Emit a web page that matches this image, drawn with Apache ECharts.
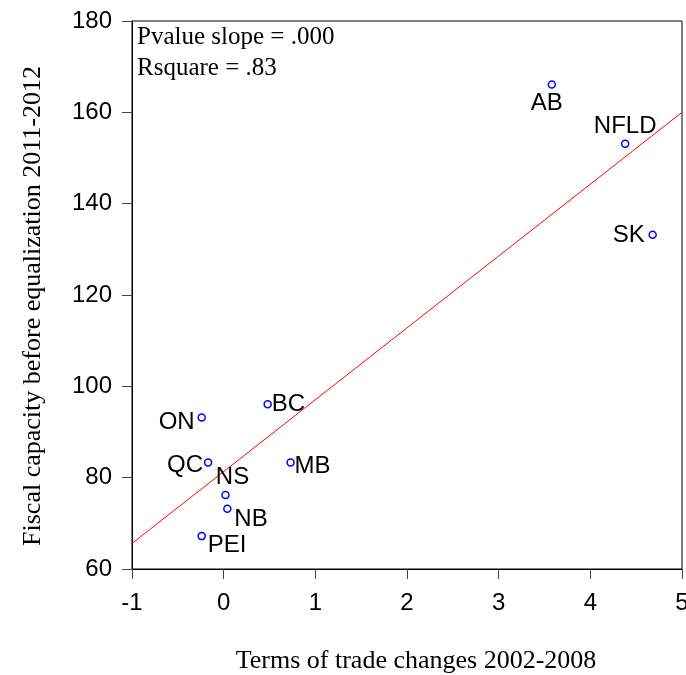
<!DOCTYPE html>
<html>
<head>
<meta charset="utf-8">
<script src="https://cdn.jsdelivr.net/npm/echarts@6/dist/echarts.min.js"></script>
<style>html,body{margin:0;padding:0;background:#fff;}#c{width:686px;height:675px;}</style>
</head>
<body>
<div id="c"></div>
<script>
// ---- data ----
var provinces = ['AB', 'NFLD', 'SK', 'BC', 'ON', 'QC', 'MB', 'NS', 'NB', 'PEI'];
var termsOfTrade = [3.58, 4.38, 4.68, 0.48, -0.24, -0.17, 0.73, 0.02, 0.04, -0.24];
var fiscalCapacity = [166.1, 153.1, 133.2, 96.1, 93.2, 83.3, 83.3, 76.2, 73.2, 67.2];
var fitLineX = [-1, 5];
var fitLineY = [65.6, 160.0];
var xTicks = [-1, 0, 1, 2, 3, 4, 5];
var yTicks = [60, 80, 100, 120, 140, 160, 180];
var statsText = ['Pvalue slope = .000', 'Rsquare = .83'];

// ---- label placement (layout only) ----
var labelPlacement = {
  AB: {align: 'center', offset: [-5, 19]},
  NFLD: {align: 'center', offset: [0, -17]},
  SK: {align: 'right', offset: [-8, 1]},
  BC: {align: 'left', offset: [4, 0]},
  ON: {align: 'right', offset: [-7, 5]},
  QC: {align: 'right', offset: [-5, 3]},
  MB: {align: 'left', offset: [4, 4]},
  NS: {align: 'center', offset: [7, -18]},
  NB: {align: 'left', offset: [7, 11]},
  PEI: {align: 'left', offset: [6, 9]}
};

var pts = provinces.map(function (p, i) {
  var lp = labelPlacement[p];
  return {
    name: p,
    value: [termsOfTrade[i], fiscalCapacity[i]],
    label: {show: true, position: 'inside', align: lp.align, verticalAlign: 'middle', offset: lp.offset,
      color: '#000', textBorderWidth: 0, textBorderColor: 'transparent',
      fontFamily: 'Liberation Sans', fontSize: 24}
  };
});
var lineData = fitLineX.map(function (x, i) { return [x, fitLineY[i]]; });

var chart = echarts.init(document.getElementById('c'));
chart.setOption({
  animation: false,
  grid: {left: 132, right: 4, top: 21, bottom: 106, containLabel: false, outerBoundsMode: 'none',
    show: true, borderColor: '#000', borderWidth: 1, backgroundColor: 'transparent'},
  xAxis: {
    type: 'value', min: xTicks[0], max: xTicks[xTicks.length - 1], interval: 1,
    name: 'Terms of trade changes 2002-2008', nameLocation: 'middle', nameGap: 79,
    nameTextStyle: {fontFamily: 'Liberation Serif', fontSize: 26, color: '#000', padding: [0, 0, 0, 18]},
    axisLine: {show: true, onZero: false, lineStyle: {color: '#000', width: 1}},
    axisTick: {show: true, inside: false, length: 10, lineStyle: {color: '#444'}},
    axisLabel: {margin: 22, fontFamily: 'Liberation Sans', fontSize: 24, color: '#000',
      formatter: function (v) { return String(v); }},
    splitLine: {show: false}
  },
  yAxis: {
    type: 'value', min: yTicks[0], max: yTicks[yTicks.length - 1], interval: 20,
    name: 'Fiscal capacity before equalization 2011-2012', nameLocation: 'middle', nameGap: 86,
    nameTextStyle: {fontFamily: 'Liberation Serif', fontSize: 26, color: '#000', padding: [0, 22, 0, 0]},
    axisLine: {show: true, onZero: false, lineStyle: {color: '#000', width: 1}},
    axisTick: {show: true, inside: false, length: 10, lineStyle: {color: '#444'}},
    axisLabel: {margin: 20, fontFamily: 'Liberation Sans', fontSize: 24, color: '#000'},
    splitLine: {show: false}
  },
  graphic: [
    {type: 'text', left: 137, top: 25, style: {text: statsText[0], font: '25px "Liberation Serif"', fill: '#000'}},
    {type: 'text', left: 137, top: 56, style: {text: statsText[1], font: '25px "Liberation Serif"', fill: '#000'}}
  ],
  series: [
    {
      type: 'line', data: lineData, symbol: 'none', silent: true,
      lineStyle: {color: '#ff0000', width: 1}, z: 2
    },
    {
      type: 'scatter', data: pts, symbol: 'circle', symbolSize: 7,
      itemStyle: {color: '#fff', borderColor: '#0000ff', borderWidth: 1.5, opacity: 1},
      label: {show: true, formatter: '{b}', fontFamily: 'Liberation Sans', fontSize: 24, color: '#000'},
      z: 3
    }
  ]
});
</script>
</body>
</html>
